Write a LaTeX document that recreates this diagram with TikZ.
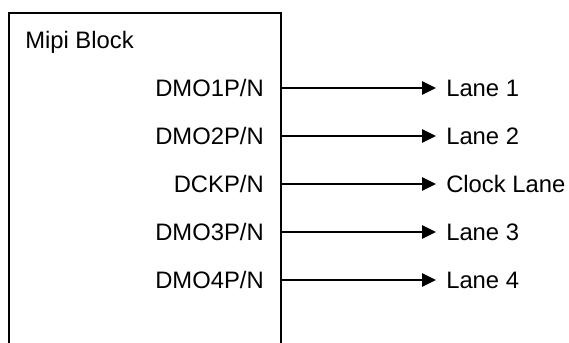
\documentclass[tikz,border=0pt]{standalone}
\usepackage{fontspec}
\setmainfont{Liberation Sans}
\usetikzlibrary{arrows.meta}
\begin{document}
\begin{tikzpicture}[x=0.75pt,y=-0.75pt,
  every node/.style={font=\fontsize{17.85pt}{20pt}\selectfont},
  blockbox/.style={draw,line width=1.4pt,minimum width=204pt,minimum height=260pt,anchor=north west,inner sep=0pt},
  pinlab/.style={anchor=east,inner sep=0pt},
  lanelab/.style={anchor=west,inner xsep=7.5pt,inner ysep=0pt},
  sig/.style={line width=1.4pt,-{Triangle[length=10.5pt,width=10pt]}}]
\useasboundingbox (0,0) rectangle (569,343);
\node[blockbox] (blk) at (8,12) {};
\node[anchor=west,inner sep=0pt] (title) at (25,42) {Mipi Block};
\node[pinlab] (s1) at (264,88) {DMO1P/N};
\node[pinlab] (s2) at (264,136) {DMO2P/N};
\node[pinlab] (s3) at (264,184) {DCKP/N};
\node[pinlab] (s4) at (264,232) {DMO3P/N};
\node[pinlab] (s5) at (264,280) {DMO4P/N};
\node[lanelab] (l1) at (436,88) {Lane 1};
\node[lanelab] (l2) at (436,136) {Lane 2};
\node[lanelab] (l3) at (436,184) {Clock Lane};
\node[lanelab] (l4) at (436,232) {Lane 3};
\node[lanelab] (l5) at (436,280) {Lane 4};
\foreach \i in {1,...,5}{
  \draw[sig] (s\i -| blk.east) -- (l\i.west);
}
\end{tikzpicture}
\end{document}
